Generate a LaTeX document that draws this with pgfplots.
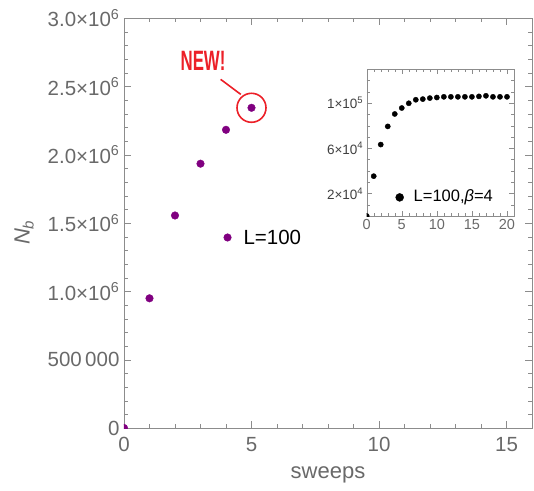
\documentclass[border=0pt]{standalone}
\usepackage{fontspec}
\setmainfont{Liberation Sans}
\usepackage{pgfplots}
\pgfplotsset{compat=1.18}
\definecolor{mmapurple}{RGB}{128,0,128}
\definecolor{framegray}{RGB}{140,140,140}
\definecolor{labelgray}{RGB}{105,105,105}
\definecolor{newred}{RGB}{236,32,40}

\begin{document}
\begin{tikzpicture}[x=1pt,y=1pt]
% main axis
\begin{axis}[
  at={(0,0)}, anchor=south west,
  width=408pt, height=410pt, scale only axis,
  xmin=0, xmax=16, ymin=0, ymax=3e6,
  xtick={0,5,10,15}, minor x tick num=4,
  ytick={0,500000,1000000,1500000,2000000,2500000,3000000},
  yticklabels={0,500\,000,1.0×10\textsuperscript{6},1.5×10\textsuperscript{6},2.0×10\textsuperscript{6},2.5×10\textsuperscript{6},3.0×10\textsuperscript{6}},
  minor y tick num=4,
  scaled y ticks=false,
  clip marker paths=true,
  axis line style={framegray},
  tick style={framegray},
  major tick length=7pt, minor tick length=4pt,
  tick align=inside,
  ticklabel style={font=\fontsize{20.5}{21}\selectfont, text=labelgray},
  yticklabel style={xshift=-1pt},
  xticklabel style={yshift=-6pt},
  xlabel={sweeps},
  ylabel={\itshape N\raisebox{-0.35ex}{\fontsize{15}{15}\selectfont b}},
  label style={font=\fontsize{22}{24}\selectfont, text=labelgray},
  ylabel style={at={(axis description cs:-0.245,0.476)}, anchor=center},
  xlabel style={yshift=-8pt},
  /pgf/number format/assume math mode=true,
]
\addplot[only marks, mark=*, mark size=3.8pt, color=mmapurple] coordinates {
  (0,0) (1,0.949e6) (2,1.555e6) (3,1.934e6) (4,2.182e6) (5,2.343e6)
};
% legend entry
\addplot[only marks, mark=*, mark size=3.8pt, color=mmapurple] coordinates {(4.06,1.394e6)};
\node[anchor=west, font=\fontsize{20.5}{22}\selectfont, text=black] at (axis cs:4.55,1.394e6) {L=100};
% annotation
\draw[newred, line width=1.6pt] (axis cs:5,2.343e6) circle[radius=14.5pt];
\draw[newred, line width=1.6pt] (axis cs:3.79,2.551e6) -- (axis cs:4.58,2.441e6);
\node[text=newred, font=\bfseries\fontsize{28}{28}\selectfont, xscale=0.6] at (axis cs:3.10,2.69e6) {NEW!};
\end{axis}
% inset
\begin{axis}[
  at={(242.7pt,212pt)}, anchor=south west,
  width=147.3pt, height=146.7pt, scale only axis,
  xmin=0, xmax=21, ymin=0, ymax=1.3e5,
  xtick={0,5,10,15,20}, minor x tick num=4,
  ytick={20000,60000,100000},
  yticklabels={2×10\textsuperscript{4},6×10\textsuperscript{4},1×10\textsuperscript{5}},
  minor ytick={10000,30000,40000,50000,70000,80000,90000,110000,120000},
  scaled y ticks=false,
  clip marker paths=true,
  axis background/.style={fill=white},
  axis line style={framegray},
  tick style={framegray},
  major tick length=5pt, minor tick length=3pt,
  tick align=inside,
  xticklabel style={font=\fontsize{14.5}{15}\selectfont, text=labelgray},
  yticklabel style={font=\fontsize{13.5}{14}\selectfont, text=black!75},
  /pgf/number format/assume math mode=true,
]
\addplot[only marks, mark=*, mark size=2.6pt, color=black] coordinates {
  (0,0) (1,35300) (2,63300) (3,79400) (4,90400) (5,95700) (6,99900)
  (7,103000) (8,103600) (9,104500) (10,105000) (11,105600) (12,105600)
  (13,105600) (14,105600) (15,105600) (16,106000) (17,106500) (18,105600)
  (19,105600) (20,105600)
};
\addplot[only marks, mark=*, mark size=4pt, color=black] coordinates {(4.7,16500)};
\node[anchor=west, font=\fontsize{16.5}{18}\selectfont, text=black] at (axis cs:6.2,16500) {L=100,{\itshape β}=4};
\end{axis}
\pgfresetboundingbox
\path[use as bounding box] (-124,-62) rectangle (410,428);
\end{tikzpicture}
\end{document}
